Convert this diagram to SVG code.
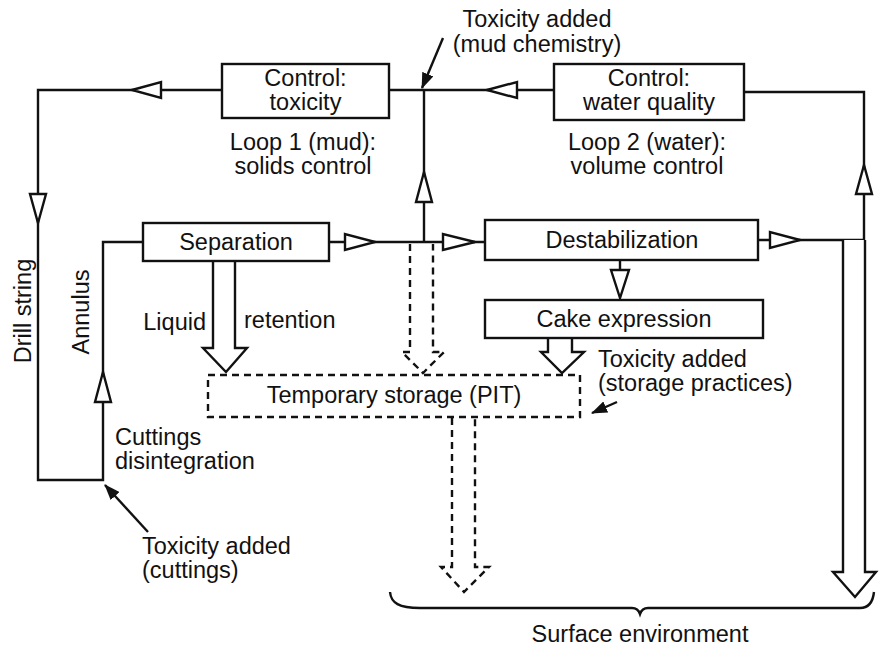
<svg xmlns="http://www.w3.org/2000/svg" width="883" height="647" viewBox="0 0 883 647">
<defs>
<style>
text{font-family:"Liberation Sans",Arial,Helvetica,sans-serif;font-size:23.5px;fill:#111}
.c{text-anchor:middle}
.e{text-anchor:end}
.box{fill:#fff;stroke:#111;stroke-width:2.4}
.dbox{fill:none;stroke:#111;stroke-width:2.4;stroke-dasharray:7 5}
.ln{fill:none;stroke:#111;stroke-width:2.4}
.dl{fill:none;stroke:#111;stroke-width:2.4;stroke-dasharray:7 5}
.oh{fill:#fff;stroke:#111;stroke-width:2.4;stroke-linejoin:miter}
.fa{fill:none;stroke:#111;stroke-width:2.4}
</style>
<marker id="fillL" viewBox="0 0 16 12" refX="15" refY="6" markerWidth="16" markerHeight="12" markerUnits="userSpaceOnUse" orient="auto">
<path d="M0,0 L16,6 L0,12 Z" fill="#111"/>
</marker>
</defs>
<rect width="883" height="647" fill="#fff"/>

<g id="connectors">
<path class="ln" d="M222,90 H38 V480 H103 V242 H143"/>
<polygon class="oh" points="132,90 161,82 161,98"/>
<polygon class="oh" points="38,223 30,194 46,194"/>
<polygon class="oh" points="103,372 95,402 111,402"/>
<path class="ln" d="M389,90 H554"/>
<polygon class="oh" points="487,90 517,82 517,98"/>
<path class="ln" d="M744,92 H864 V240"/>
<polygon class="oh" points="864,165 856,194 872,194"/>
<path class="ln" d="M329,242 H485"/>
<polygon class="oh" points="375,242 345,234 345,250"/>
<polygon class="oh" points="475,242 443,234 443,250"/>
<path class="ln" d="M424,242 V90"/>
<polygon class="oh" points="424,172 416,202 432,202"/>
<path class="ln" d="M758,240 H864"/>
<polygon class="oh" points="800,240 770,232 770,248"/>
<path class="ln" d="M620,260 V270"/>
<polygon class="oh" points="620,298 611,270 629,270"/>
<path class="oh" d="M843,240 V572 H833 L855,597 L876,572 H865 V240"/>
<path class="oh" d="M213,261 V348 H203 L226,372 L247,348 H235 V261"/>
<path class="oh" d="M548,339 V352 H541 L562,373 L584,352 H572 V339"/>
<path class="dl" d="M410,244 V352 H402 L423,373 L444,352 H433 V244"/>
<path class="dl" d="M452,418 V567 H441 L464,592 L489,567 H475 V418"/>
<line class="fa" x1="443" y1="38" x2="422" y2="88" marker-end="url(#fillL)"/>
<line class="fa" x1="148" y1="532" x2="105" y2="485" marker-end="url(#fillL)"/>
<line class="fa" x1="617" y1="402" x2="592" y2="413" marker-end="url(#fillL)"/>
<path class="ln" d="M390,592 C391,603 399,608 420,608 L632,608 Q638,608 640,614 Q642,608 648,608 L860,608 C869,608 873,601 874,592"/>
</g>

<g id="ctrl-toxicity">
<rect class="box" x="222" y="64" width="167" height="54"/>
<text class="c" x="305.5" y="86">Control:</text>
<text class="c" x="305.5" y="110">toxicity</text>
</g>
<g id="ctrl-water">
<rect class="box" x="554" y="64" width="190" height="56"/>
<text class="c" x="649" y="86">Control:</text>
<text class="c" x="649" y="110">water quality</text>
</g>
<g id="separation">
<rect class="box" x="143" y="223" width="186" height="38"/>
<text class="c" x="236" y="250">Separation</text>
</g>
<g id="destabilization">
<rect class="box" x="485" y="220" width="273" height="40"/>
<text class="c" x="622" y="248">Destabilization</text>
</g>
<g id="cake">
<rect class="box" x="485" y="300" width="278" height="38"/>
<text class="c" x="624" y="327">Cake expression</text>
</g>
<g id="storage">
<rect class="dbox" x="208" y="375" width="372" height="42"/>
<text class="c" x="394" y="403">Temporary storage (PIT)</text>
</g>

<g id="labels">
<text class="c" x="537" y="27">Toxicity added</text>
<text class="c" x="537" y="52">(mud chemistry)</text>
<text class="c" x="303" y="150">Loop 1 (mud):</text>
<text class="c" x="303" y="174">solids control</text>
<text class="c" x="647" y="150">Loop 2 (water):</text>
<text class="c" x="647" y="174">volume control</text>
<text transform="translate(31,311) rotate(-90)" class="c">Drill string</text>
<text transform="translate(89,312) rotate(-90)" class="c">Annulus</text>
<text class="e" x="206" y="330">Liquid</text>
<text x="244" y="328">retention</text>
<text x="115" y="445">Cuttings</text>
<text x="115" y="469">disintegration</text>
<text x="142" y="554">Toxicity added</text>
<text x="142" y="578">(cuttings)</text>
<text x="598" y="367">Toxicity added</text>
<text x="598" y="391">(storage practices)</text>
<text class="c" x="640" y="642">Surface environment</text>
</g>
</svg>
